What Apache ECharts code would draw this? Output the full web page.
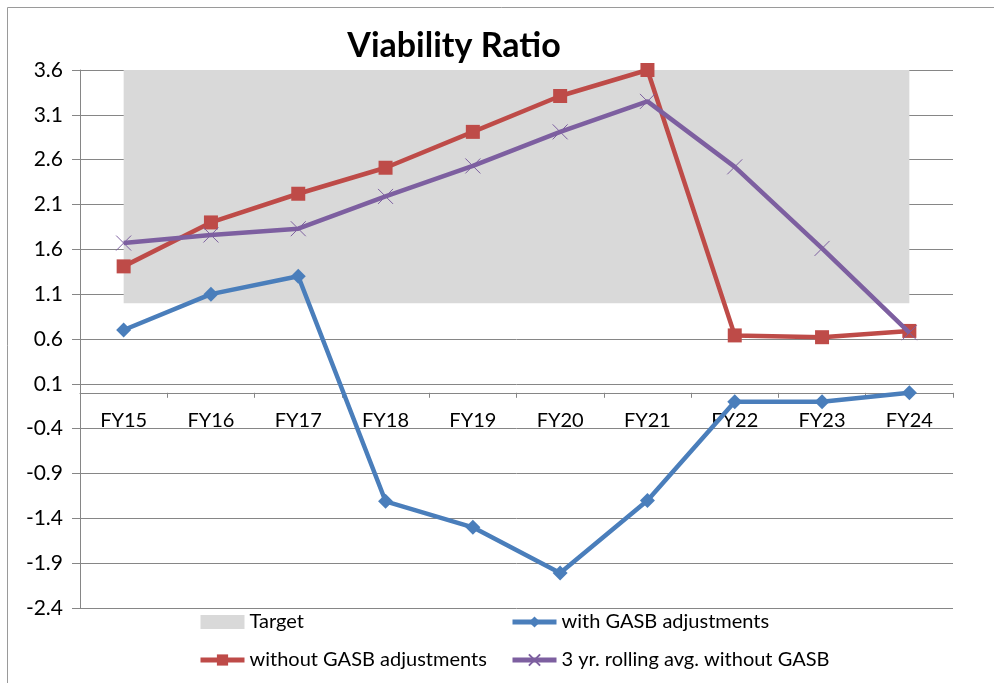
<!DOCTYPE html>
<html>
<head>
<meta charset="utf-8">
<script src="https://cdn.jsdelivr.net/npm/echarts@6/dist/echarts.min.js"></script>
<style>
  html, body { margin: 0; padding: 0; background: #fff; }
  #main { width: 994px; height: 683px; }
</style>
</head>
<body>
<div id="main"></div>
<script>
// categories and values
var years = ['FY15', 'FY16', 'FY17', 'FY18', 'FY19', 'FY20', 'FY21', 'FY22', 'FY23', 'FY24'];
var targetLow = [1.0, 1.0, 1.0, 1.0, 1.0, 1.0, 1.0, 1.0, 1.0, 1.0];
var targetSpan = [2.6, 2.6, 2.6, 2.6, 2.6, 2.6, 2.6, 2.6, 2.6, 2.6];
var withGasb = [0.7, 1.1, 1.3, -1.21, -1.5, -2.01, -1.2, -0.1, -0.1, 0.0];
var withoutGasb = [1.41, 1.9, 2.22, 2.51, 2.91, 3.31, 3.6, 0.64, 0.62, 0.69];
var rollingAvg = [1.67, 1.76, 1.83, 2.19, 2.53, 2.91, 3.25, 2.52, 1.61, 0.67];
var yTicks = [-2.4, -1.9, -1.4, -0.9, -0.4, 0.1, 0.6, 1.1, 1.6, 2.1, 2.6, 3.1, 3.6];

var myChart = echarts.init(document.getElementById('main'));

var font = 'Lato';
var gridColor = '#868686';
var legendText = { fontFamily: font, fontSize: 20, color: '#000', lineHeight: 20 };

var option = {
    animation: false,
    textStyle: { fontFamily: font },
    title: {
        text: 'Viability Ratio',
        left: 449,
        top: 24,
        textAlign: 'center',
        textStyle: { fontFamily: font, fontSize: 34, fontWeight: 'bold', color: '#000' }
    },
    graphic: [{
        type: 'rect',
        z: -10,
        shape: { x: 7.5, y: 7.5, width: 1100, height: 800 },
        style: { fill: 'none', stroke: '#9a9a9a', lineWidth: 1 }
    }],
    legend: [{
        orient: 'vertical',
        left: 198,
        top: 612,
        padding: 0,
        itemWidth: 44,
        itemHeight: 14,
        itemGap: 18,
        lineStyle: { width: 5 },
        textStyle: legendText,
        data: [
            { name: 'Target', icon: 'rect', itemStyle: { color: '#d9d9d9' } },
            { name: 'without GASB adjustments', lineStyle: { width: 5 } }
        ]
    }, {
        orient: 'vertical',
        left: 510,
        top: 612,
        padding: 0,
        itemWidth: 44,
        itemHeight: 14,
        itemGap: 18,
        lineStyle: { width: 5 },
        textStyle: legendText,
        data: [
            { name: 'with GASB adjustments', lineStyle: { width: 5 } },
            { name: '3 yr. rolling avg. without GASB', lineStyle: { width: 5 } }
        ]
    }],
    grid: { left: 80, right: 41, top: 70, bottom: 75 },
    xAxis: {
        type: 'category',
        data: years,
        boundaryGap: true,
        axisLine: { onZero: false, lineStyle: { color: gridColor, width: 1 } },
        axisTick: { show: true, length: 5, inside: false, lineStyle: { color: gridColor } },
        axisLabel: { fontFamily: font, fontSize: 20, color: '#000', margin: 18 },
        splitLine: { show: false }
    },
    yAxis: {
        type: 'value',
        min: -2.4,
        max: 3.6,
        axisLine: { show: true, lineStyle: { color: gridColor, width: 1 } },
        axisTick: { show: true, length: 8, lineStyle: { color: gridColor }, customValues: yTicks },
        axisLabel: {
            fontFamily: font, fontSize: 21, color: '#000', margin: 17,
            customValues: yTicks,
            formatter: function (v) { return v.toFixed(1); }
        },
        splitLine: { show: true, lineStyle: { color: gridColor, width: 1 } }
    },
    series: [{
        name: 'targetBase',
        type: 'line',
        stack: 'target',
        data: targetLow,
        showSymbol: false,
        lineStyle: { width: 0 },
        silent: true,
        z: 1
    }, {
        name: 'Target',
        type: 'line',
        stack: 'target',
        data: targetSpan,
        showSymbol: false,
        itemStyle: { color: '#d9d9d9' },
        lineStyle: { width: 0 },
        areaStyle: { color: '#d9d9d9', opacity: 1 },
        silent: true,
        z: 1
    }, {
        name: 'with GASB adjustments',
        type: 'line',
        data: withGasb,
        symbol: 'diamond',
        symbolSize: 15,
        itemStyle: { color: '#4a7ebb' },
        lineStyle: { color: '#4a7ebb', width: 4.5 },
        z: 3
    }, {
        name: 'without GASB adjustments',
        type: 'line',
        data: withoutGasb,
        symbol: 'rect',
        symbolSize: 14,
        itemStyle: { color: '#be4b48' },
        lineStyle: { color: '#be4b48', width: 4.5 },
        z: 4
    }, {
        name: '3 yr. rolling avg. without GASB',
        type: 'line',
        data: rollingAvg,
        symbol: 'path://M0,0L10,10M10,0L0,10',
        symbolSize: 15,
        itemStyle: { color: '#7d5fa0', borderColor: '#7d5fa0', borderWidth: 1 },
        lineStyle: { color: '#7d5fa0', width: 4.5 },
        z: 5
    }]
};

myChart.setOption(option);

// put the category axis (line, ticks and labels) on the value 0 of the y axis
var zeroY = myChart.convertToPixel({ yAxisIndex: 0 }, 0);
var bottomY = myChart.convertToPixel({ yAxisIndex: 0 }, -2.4);
myChart.setOption({ xAxis: { offset: zeroY - bottomY } });
</script>
</body>
</html>
